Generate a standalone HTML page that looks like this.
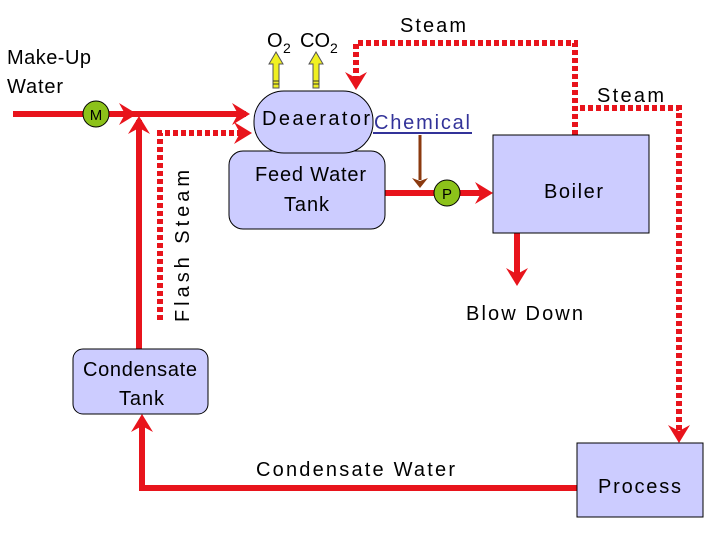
<!DOCTYPE html>
<html><head><style>
body{margin:0;background:#fff}
svg{display:block}
text{font-family:"Liberation Sans",Arial,sans-serif;fill:#000}
</style></head><body>
<svg width="720" height="540" viewBox="0 0 720 540" xmlns="http://www.w3.org/2000/svg">
<defs>
<path id="ah" d="M0,0 L-18,-11 L-12,0 L-18,11 Z" fill="#e8141c"/>
</defs>
<g stroke="#e8141c" stroke-width="6" fill="none">
<line x1="13" y1="114" x2="246" y2="114"/>
<line x1="139" y1="349" x2="139" y2="120"/>
<line x1="385" y1="193" x2="488" y2="193"/>
<line x1="517" y1="233" x2="517" y2="280"/>
<polyline points="577,488 142,488 142,420"/>
</g>
<g stroke="#e8141c" stroke-width="6" fill="none" stroke-dasharray="5,3">
<polyline points="160,320 160,133 244,133"/>
<polyline points="575,135 575,43 356,43 356,78"/>
<polyline points="580,108 679,108 679,436"/>
</g>
<use href="#ah" transform="translate(250,114)"/>
<use href="#ah" transform="translate(137,114)"/>
<use href="#ah" transform="translate(139,116) rotate(-90)"/>
<use href="#ah" transform="translate(252,133)"/>
<use href="#ah" transform="translate(493,193)"/>
<use href="#ah" transform="translate(517,286) rotate(90)"/>
<use href="#ah" transform="translate(142,414) rotate(-90)"/>
<use href="#ah" transform="translate(356,90) rotate(90)"/>
<use href="#ah" transform="translate(679,443) rotate(90)"/>
<line x1="420" y1="135" x2="420" y2="180" stroke="#8b3a0f" stroke-width="3"/>
<path d="M420,188 L412,178 L420,181 L428,178 Z" fill="#8b3a0f"/>
<g fill="#f0f020" stroke="#555" stroke-width="1">
<path d="M273,88 L273,64 L269,64 L276,52 L283,64 L279,64 L279,88 Z"/>
<path d="M313,88 L313,64 L309,64 L316,52 L323,64 L319,64 L319,88 Z"/>
</g>
<g stroke="#333" stroke-width="1">
<line x1="273" y1="81" x2="279" y2="81"/><line x1="273" y1="84" x2="279" y2="84"/>
<line x1="313" y1="81" x2="319" y2="81"/><line x1="313" y1="84" x2="319" y2="84"/>
</g>
<rect x="229" y="151" width="156" height="78" rx="14" fill="#ccccff" stroke="#000"/>
<rect x="254" y="91" width="119" height="62" rx="30" fill="#ccccff" stroke="#000"/>
<rect x="73" y="349" width="135" height="65" rx="10" fill="#ccccff" stroke="#000"/>
<rect x="493" y="135" width="156" height="98" fill="#ccccff" stroke="#000"/>
<rect x="577" y="443" width="126" height="74" fill="#ccccff" stroke="#000"/>
<circle cx="96" cy="114" r="13" fill="#8cc21a" stroke="#000"/>
<text x="96" y="120" font-size="15" text-anchor="middle">M</text>
<circle cx="447" cy="193" r="13" fill="#8cc21a" stroke="#000"/>
<text x="447" y="199" font-size="15" text-anchor="middle">P</text>
<g font-size="20">
<text x="7" y="64" textLength="84">Make-Up</text>
<text x="7" y="93" textLength="56">Water</text>
<text x="267" y="47">O</text><text x="283" y="53" font-size="14">2</text>
<text x="300" y="47">CO</text><text x="330" y="53" font-size="14">2</text>
<text x="400" y="32" textLength="66">Steam</text>
<text x="597" y="102" textLength="67">Steam</text>
<text x="262" y="125" textLength="108">Deaerator</text>
<text x="374" y="129" textLength="96" style="fill:#333399">Chemical</text>
<text x="255" y="181" textLength="111">Feed Water</text>
<text x="284" y="211" textLength="45">Tank</text>
<text x="544" y="198" textLength="59">Boiler</text>
<text x="466" y="320" textLength="117">Blow  Down</text>
<text x="83" y="376" textLength="114">Condensate</text>
<text x="119" y="405" textLength="45">Tank</text>
<text x="256" y="476" textLength="199">Condensate Water</text>
<text x="598" y="493" textLength="83">Process</text>
<text transform="translate(189,322) rotate(-90)" textLength="152">Flash  Steam</text>
</g>
<line x1="373" y1="133" x2="472" y2="133" stroke="#333399" stroke-width="2"/>
</svg>
</body></html>
